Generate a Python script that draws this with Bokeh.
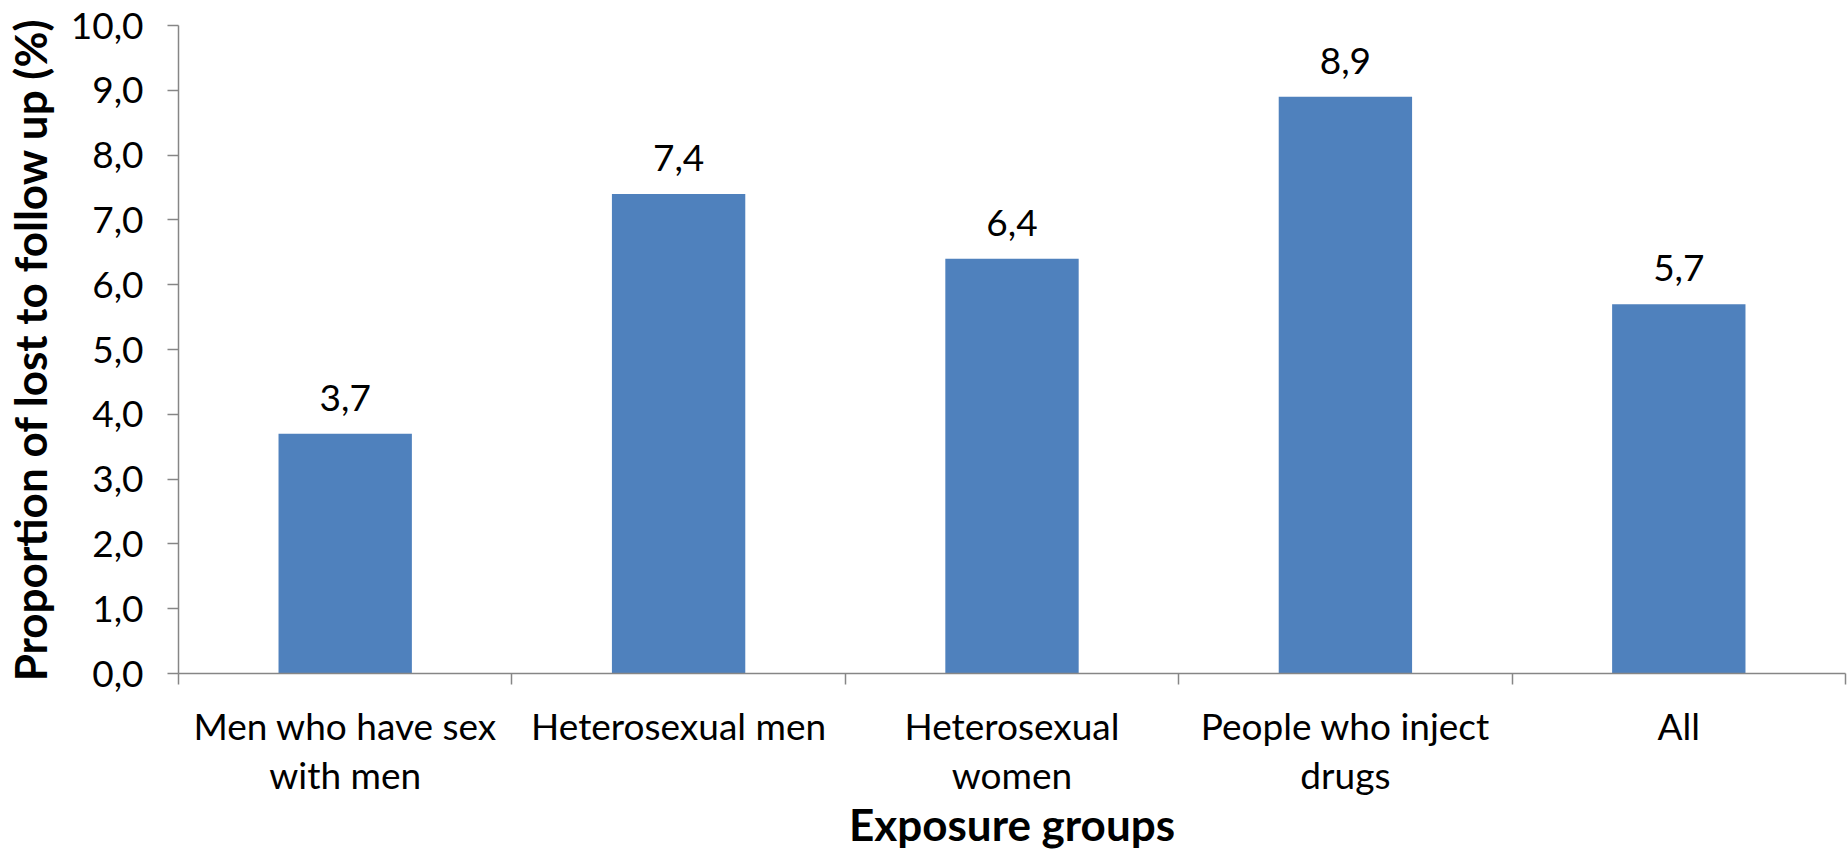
from bokeh.plotting import figure
from bokeh.models import Range1d, FixedTicker, ColumnDataSource
from bokeh.core.properties import value
from bokeh.embed import file_html
from bokeh.resources import INLINE

# Data
groups = [
    "Men who have sex\nwith men",
    "Heterosexual men",
    "Heterosexual\nwomen",
    "People who inject\ndrugs",
    "All",
]
lost_pct = [3.7, 7.4, 6.4, 8.9, 5.7]
y_ticks = [0, 1, 2, 3, 4, 5, 6, 7, 8, 9, 10]
y_tick_labels = ["0,0", "1,0", "2,0", "3,0", "4,0", "5,0", "6,0", "7,0", "8,0", "9,0", "10,0"]

FONT = "Lato"
FS = "37px"
TITLE_FS = "44px"
AXIS_GREY = "#868686"
BAR_BLUE = "#4F81BD"

centers = [i + 0.5 for i in range(len(groups))]
src = ColumnDataSource(dict(
    x=centers,
    top=lost_pct,
    label=[f"{v:.1f}".replace(".", ",") for v in lost_pct],
))

p = figure(
    width=1847, height=853,
    x_range=Range1d(0, len(groups)), y_range=Range1d(0, 10),
    output_backend="svg", toolbar_location=None,
    min_border_left=174, min_border_right=2,
    min_border_top=25, min_border_bottom=178,
)
p.outline_line_color = None
p.grid.visible = False
p.background_fill_color = "white"
p.border_fill_color = "white"

p.vbar(x="x", top="top", width=0.4, bottom=0, source=src,
       fill_color=BAR_BLUE, line_color=None)

p.text(x="x", y="top", text="label", source=src,
       text_font=value(FONT), text_font_size=FS, text_color="black",
       text_align="center", text_baseline="alphabetic", y_offset=-36)

# x axis: labels under each group, tick marks on group boundaries
xa = p.xaxis[0]
xa.ticker = FixedTicker(ticks=centers, minor_ticks=list(range(len(groups) + 1)))
xa.major_label_overrides = {c: g for c, g in zip(centers, groups)}
xa.major_tick_line_color = None
xa.minor_tick_out = 11
xa.minor_tick_in = 0
xa.minor_tick_line_color = AXIS_GREY
xa.minor_tick_line_width = 1.5
xa.axis_line_color = AXIS_GREY
xa.axis_line_width = 1.5
xa.major_label_text_font = FONT
xa.major_label_text_font_size = FS
xa.major_label_text_line_height = 1.1
xa.major_label_text_color = "black"
xa.major_label_standoff = 18
xa.axis_label = "Exposure groups"
xa.axis_label_text_font = FONT
xa.axis_label_text_font_size = TITLE_FS
xa.axis_label_text_font_style = "bold"
xa.axis_label_text_color = "black"
xa.axis_label_standoff = -2

ya = p.yaxis[0]
ya.ticker = FixedTicker(ticks=y_ticks, minor_ticks=[])
ya.major_label_overrides = {t: s for t, s in zip(y_ticks, y_tick_labels)}
ya.major_tick_out = 11
ya.major_tick_in = 0
ya.major_tick_line_color = AXIS_GREY
ya.major_tick_line_width = 1.5
ya.axis_line_color = AXIS_GREY
ya.axis_line_width = 1.5
ya.major_label_text_font = FONT
ya.major_label_text_font_size = FS
ya.major_label_text_color = "black"
ya.major_label_standoff = 24
ya.axis_label = "Proportion of lost to follow up (%)"
ya.axis_label_text_font = FONT
ya.axis_label_text_font_size = TITLE_FS
ya.axis_label_text_font_style = "bold"
ya.axis_label_text_color = "black"
ya.axis_label_standoff = 12

open("out.html", "w").write(file_html(p, INLINE))
